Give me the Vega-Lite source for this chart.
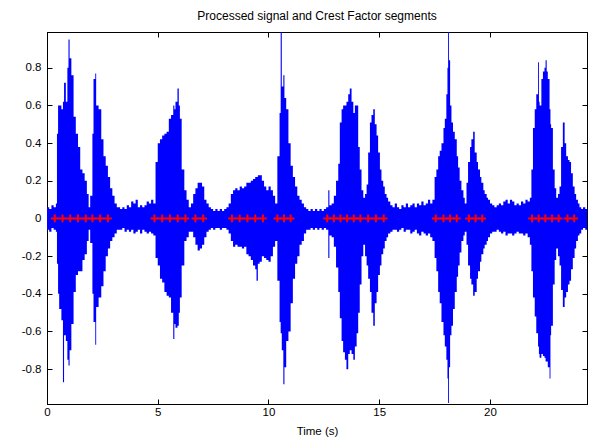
{
"$schema": "https://vega.github.io/schema/vega-lite/v6.json",
"width": 540, "height": 372,
"autosize": "none",
"padding": {"left": 47, "top": 32, "right": 8, "bottom": 34},
"background": "white",
"title": {"text": "Processed signal and Crest Factor segments", "font": "Liberation Sans", "fontSize": 12, "fontWeight": "normal", "color": "#000000", "offset": 9},
"config": {
  "view": {"stroke": "#000000", "strokeWidth": 1},
  "axis": {"grid": false, "domainColor": "#000000", "tickColor": "#000000", "labelColor": "#000000", "labelFont": "Liberation Sans", "labelFontSize": 11.5, "titleFont": "Liberation Sans", "titleFontSize": 11.5, "titleFontWeight": "normal", "titleColor": "#000000", "tickSize": -5, "labelPadding": 7}
},
"datasets": {
"sig": [
{"t":0.0,"hi":0.06,"lo":-0.06},{"t":0.1,"hi":0.05,"lo":-0.07},{"t":0.2,"hi":0.07,"lo":-0.05},{"t":0.3,"hi":0.06,"lo":-0.06},{"t":0.4,"hi":0.08,"lo":-0.07},
{"t":0.45,"hi":0.45,"lo":-0.24},{"t":0.5,"hi":0.6,"lo":-0.4},{"t":0.55,"hi":0.6,"lo":-0.48},{"t":0.65,"hi":0.58,"lo":-0.54},{"t":0.72,"hi":0.62,"lo":-0.87},{"t":0.77,"hi":0.72,"lo":-0.62},{"t":0.85,"hi":0.62,"lo":-0.65},{"t":0.92,"hi":0.8,"lo":-0.75},{"t":0.97,"hi":0.95,"lo":-0.78},{"t":1.02,"hi":0.85,"lo":-0.7},{"t":1.1,"hi":0.76,"lo":-0.56},{"t":1.2,"hi":0.54,"lo":-0.39},{"t":1.3,"hi":0.45,"lo":-0.3},{"t":1.4,"hi":0.38,"lo":-0.28},{"t":1.5,"hi":0.26,"lo":-0.28},{"t":1.6,"hi":0.24,"lo":-0.22},{"t":1.7,"hi":0.2,"lo":-0.19},{"t":1.8,"hi":0.13,"lo":-0.12},{"t":1.88,"hi":0.06,"lo":-0.06},{"t":1.95,"hi":0.12,"lo":-0.13},{"t":2.05,"hi":0.45,"lo":-0.4},{"t":2.1,"hi":0.74,"lo":-0.55},{"t":2.18,"hi":0.77,"lo":-0.67},{"t":2.22,"hi":0.6,"lo":-0.47},{"t":2.33,"hi":0.58,"lo":-0.42},{"t":2.45,"hi":0.42,"lo":-0.36},{"t":2.55,"hi":0.33,"lo":-0.28},{"t":2.65,"hi":0.28,"lo":-0.2},{"t":2.75,"hi":0.22,"lo":-0.16},{"t":2.85,"hi":0.16,"lo":-0.12},{"t":2.95,"hi":0.12,"lo":-0.1},{"t":3.05,"hi":0.08,"lo":-0.08},{"t":3.15,"hi":0.06,"lo":-0.06},
{"t":3.3,"hi":0.05,"lo":-0.06},{"t":3.4,"hi":0.06,"lo":-0.05},{"t":3.5,"hi":0.05,"lo":-0.07},{"t":3.6,"hi":0.07,"lo":-0.06},{"t":3.7,"hi":0.06,"lo":-0.07},{"t":3.8,"hi":0.09,"lo":-0.06},{"t":3.9,"hi":0.08,"lo":-0.08},{"t":4.0,"hi":0.1,"lo":-0.07},{"t":4.1,"hi":0.06,"lo":-0.06},{"t":4.2,"hi":0.07,"lo":-0.08},{"t":4.3,"hi":0.06,"lo":-0.06},{"t":4.4,"hi":0.07,"lo":-0.07},{"t":4.5,"hi":0.09,"lo":-0.08},{"t":4.6,"hi":0.08,"lo":-0.07},{"t":4.7,"hi":0.1,"lo":-0.08},{"t":4.8,"hi":0.08,"lo":-0.09},
{"t":4.9,"hi":0.3,"lo":-0.21},{"t":5.0,"hi":0.4,"lo":-0.25},{"t":5.1,"hi":0.42,"lo":-0.32},{"t":5.2,"hi":0.44,"lo":-0.34},{"t":5.3,"hi":0.45,"lo":-0.39},{"t":5.4,"hi":0.46,"lo":-0.41},{"t":5.5,"hi":0.53,"lo":-0.42},{"t":5.6,"hi":0.55,"lo":-0.5},{"t":5.7,"hi":0.6,"lo":-0.64},{"t":5.75,"hi":0.58,"lo":-0.56},{"t":5.8,"hi":0.62,"lo":-0.58},{"t":5.89,"hi":0.69,"lo":-0.57},{"t":5.95,"hi":0.6,"lo":-0.5},{"t":6.0,"hi":0.53,"lo":-0.42},{"t":6.08,"hi":0.26,"lo":-0.25},{"t":6.2,"hi":0.15,"lo":-0.12},{"t":6.3,"hi":0.1,"lo":-0.1},{"t":6.4,"hi":0.06,"lo":-0.07},{"t":6.5,"hi":0.08,"lo":-0.07},{"t":6.6,"hi":0.13,"lo":-0.1},{"t":6.7,"hi":0.16,"lo":-0.14},{"t":6.8,"hi":0.19,"lo":-0.17},{"t":6.9,"hi":0.19,"lo":-0.16},{"t":7.0,"hi":0.17,"lo":-0.14},{"t":7.1,"hi":0.1,"lo":-0.1},{"t":7.2,"hi":0.08,"lo":-0.07},{"t":7.3,"hi":0.06,"lo":-0.06},
{"t":7.4,"hi":0.05,"lo":-0.05},{"t":7.5,"hi":0.04,"lo":-0.06},{"t":7.6,"hi":0.05,"lo":-0.05},{"t":7.7,"hi":0.04,"lo":-0.05},{"t":7.8,"hi":0.05,"lo":-0.06},{"t":7.9,"hi":0.04,"lo":-0.05},{"t":8.0,"hi":0.05,"lo":-0.05},{"t":8.1,"hi":0.06,"lo":-0.06},{"t":8.2,"hi":0.08,"lo":-0.08},
{"t":8.3,"hi":0.13,"lo":-0.12},{"t":8.4,"hi":0.15,"lo":-0.15},{"t":8.5,"hi":0.16,"lo":-0.14},{"t":8.6,"hi":0.15,"lo":-0.15},{"t":8.7,"hi":0.17,"lo":-0.15},{"t":8.8,"hi":0.16,"lo":-0.16},{"t":8.9,"hi":0.17,"lo":-0.15},{"t":9.0,"hi":0.19,"lo":-0.19},{"t":9.1,"hi":0.19,"lo":-0.2},{"t":9.2,"hi":0.2,"lo":-0.22},{"t":9.3,"hi":0.21,"lo":-0.25},{"t":9.4,"hi":0.22,"lo":-0.27},{"t":9.46,"hi":0.22,"lo":-0.33},{"t":9.52,"hi":0.23,"lo":-0.24},{"t":9.6,"hi":0.23,"lo":-0.23},{"t":9.7,"hi":0.2,"lo":-0.2},{"t":9.8,"hi":0.17,"lo":-0.21},{"t":9.9,"hi":0.15,"lo":-0.22},{"t":10.0,"hi":0.17,"lo":-0.23},{"t":10.1,"hi":0.15,"lo":-0.2},{"t":10.2,"hi":0.12,"lo":-0.15},{"t":10.3,"hi":0.08,"lo":-0.12},
{"t":10.4,"hi":0.33,"lo":-0.33},{"t":10.5,"hi":0.56,"lo":-0.55},{"t":10.55,"hi":0.99,"lo":-0.61},{"t":10.6,"hi":0.7,"lo":-0.7},{"t":10.67,"hi":0.76,"lo":-0.88},{"t":10.72,"hi":0.64,"lo":-0.79},{"t":10.8,"hi":0.58,"lo":-0.65},{"t":10.9,"hi":0.4,"lo":-0.6},{"t":11.0,"hi":0.28,"lo":-0.45},{"t":11.1,"hi":0.22,"lo":-0.32},{"t":11.2,"hi":0.17,"lo":-0.24},{"t":11.3,"hi":0.12,"lo":-0.2},{"t":11.4,"hi":0.1,"lo":-0.14},{"t":11.5,"hi":0.08,"lo":-0.12},{"t":11.6,"hi":0.06,"lo":-0.08},
{"t":11.7,"hi":0.05,"lo":-0.06},{"t":11.8,"hi":0.04,"lo":-0.06},{"t":11.9,"hi":0.05,"lo":-0.05},{"t":12.0,"hi":0.04,"lo":-0.06},{"t":12.1,"hi":0.05,"lo":-0.05},{"t":12.2,"hi":0.04,"lo":-0.06},{"t":12.3,"hi":0.05,"lo":-0.05},{"t":12.4,"hi":0.04,"lo":-0.06},{"t":12.5,"hi":0.05,"lo":-0.05},{"t":12.6,"hi":0.06,"lo":-0.06},{"t":12.7,"hi":0.15,"lo":-0.21},{"t":12.75,"hi":0.07,"lo":-0.09},{"t":12.85,"hi":0.08,"lo":-0.1},{"t":12.95,"hi":0.12,"lo":-0.15},{"t":13.05,"hi":0.2,"lo":-0.26},{"t":13.15,"hi":0.29,"lo":-0.39},
{"t":13.22,"hi":0.51,"lo":-0.53},{"t":13.3,"hi":0.58,"lo":-0.65},{"t":13.37,"hi":0.6,"lo":-0.71},{"t":13.45,"hi":0.6,"lo":-0.75},{"t":13.52,"hi":0.62,"lo":-0.8},{"t":13.6,"hi":0.66,"lo":-0.72},{"t":13.67,"hi":0.69,"lo":-0.7},{"t":13.75,"hi":0.62,"lo":-0.72},{"t":13.83,"hi":0.56,"lo":-0.75},{"t":13.9,"hi":0.6,"lo":-0.68},{"t":13.98,"hi":0.6,"lo":-0.61},{"t":14.05,"hi":0.38,"lo":-0.5},{"t":14.12,"hi":0.26,"lo":-0.35},{"t":14.2,"hi":0.15,"lo":-0.2},{"t":14.28,"hi":0.11,"lo":-0.14},{"t":14.36,"hi":0.13,"lo":-0.2},{"t":14.43,"hi":0.18,"lo":-0.25},{"t":14.5,"hi":0.35,"lo":-0.32},{"t":14.58,"hi":0.51,"lo":-0.39},{"t":14.65,"hi":0.55,"lo":-0.5},{"t":14.73,"hi":0.58,"lo":-0.57},{"t":14.8,"hi":0.5,"lo":-0.45},{"t":14.88,"hi":0.44,"lo":-0.39},{"t":14.95,"hi":0.35,"lo":-0.3},{"t":15.03,"hi":0.26,"lo":-0.25},{"t":15.1,"hi":0.2,"lo":-0.19},{"t":15.18,"hi":0.17,"lo":-0.16},{"t":15.25,"hi":0.13,"lo":-0.12},{"t":15.33,"hi":0.11,"lo":-0.1},{"t":15.4,"hi":0.09,"lo":-0.08},
{"t":15.5,"hi":0.07,"lo":-0.07},{"t":15.6,"hi":0.06,"lo":-0.06},{"t":15.7,"hi":0.08,"lo":-0.06},{"t":15.8,"hi":0.06,"lo":-0.07},{"t":15.9,"hi":0.05,"lo":-0.06},{"t":16.0,"hi":0.07,"lo":-0.05},{"t":16.1,"hi":0.06,"lo":-0.07},{"t":16.2,"hi":0.08,"lo":-0.06},{"t":16.3,"hi":0.06,"lo":-0.06},{"t":16.4,"hi":0.07,"lo":-0.08},{"t":16.5,"hi":0.08,"lo":-0.07},{"t":16.6,"hi":0.06,"lo":-0.06},{"t":16.7,"hi":0.08,"lo":-0.08},{"t":16.8,"hi":0.07,"lo":-0.09},{"t":16.9,"hi":0.09,"lo":-0.07},{"t":17.0,"hi":0.07,"lo":-0.08},{"t":17.1,"hi":0.08,"lo":-0.09},{"t":17.2,"hi":0.1,"lo":-0.08},{"t":17.3,"hi":0.08,"lo":-0.1},{"t":17.4,"hi":0.1,"lo":-0.12},
{"t":17.5,"hi":0.22,"lo":-0.21},{"t":17.58,"hi":0.26,"lo":-0.28},{"t":17.66,"hi":0.33,"lo":-0.39},{"t":17.73,"hi":0.36,"lo":-0.45},{"t":17.81,"hi":0.4,"lo":-0.55},{"t":17.9,"hi":0.48,"lo":-0.62},{"t":17.96,"hi":0.53,"lo":-0.68},{"t":18.03,"hi":0.66,"lo":-0.75},{"t":18.08,"hi":0.8,"lo":-0.85},{"t":18.11,"hi":0.99,"lo":-0.98},{"t":18.15,"hi":0.84,"lo":-0.79},{"t":18.2,"hi":0.6,"lo":-0.62},{"t":18.26,"hi":0.51,"lo":-0.57},{"t":18.33,"hi":0.46,"lo":-0.48},{"t":18.41,"hi":0.42,"lo":-0.39},{"t":18.5,"hi":0.33,"lo":-0.31},{"t":18.56,"hi":0.27,"lo":-0.25},{"t":18.63,"hi":0.2,"lo":-0.18},{"t":18.71,"hi":0.15,"lo":-0.12},{"t":18.8,"hi":0.11,"lo":-0.09},{"t":18.86,"hi":0.08,"lo":-0.07},{"t":18.94,"hi":0.19,"lo":-0.14},{"t":19.01,"hi":0.3,"lo":-0.25},{"t":19.1,"hi":0.38,"lo":-0.32},{"t":19.16,"hi":0.42,"lo":-0.35},{"t":19.24,"hi":0.46,"lo":-0.41},{"t":19.31,"hi":0.35,"lo":-0.39},{"t":19.4,"hi":0.3,"lo":-0.32},{"t":19.46,"hi":0.26,"lo":-0.28},{"t":19.55,"hi":0.22,"lo":-0.23},{"t":19.61,"hi":0.19,"lo":-0.19},{"t":19.7,"hi":0.15,"lo":-0.16},{"t":19.76,"hi":0.13,"lo":-0.14},{"t":19.85,"hi":0.11,"lo":-0.12},{"t":19.91,"hi":0.1,"lo":-0.1},{"t":20.0,"hi":0.08,"lo":-0.08},{"t":20.1,"hi":0.07,"lo":-0.07},
{"t":20.2,"hi":0.06,"lo":-0.07},{"t":20.3,"hi":0.07,"lo":-0.06},{"t":20.4,"hi":0.08,"lo":-0.07},{"t":20.5,"hi":0.07,"lo":-0.08},{"t":20.6,"hi":0.09,"lo":-0.07},{"t":20.7,"hi":0.1,"lo":-0.09},{"t":20.8,"hi":0.08,"lo":-0.08},{"t":20.9,"hi":0.1,"lo":-0.08},{"t":21.0,"hi":0.09,"lo":-0.09},{"t":21.1,"hi":0.07,"lo":-0.08},{"t":21.2,"hi":0.08,"lo":-0.07},{"t":21.3,"hi":0.07,"lo":-0.08},{"t":21.4,"hi":0.09,"lo":-0.08},{"t":21.5,"hi":0.08,"lo":-0.09},{"t":21.6,"hi":0.1,"lo":-0.08},{"t":21.7,"hi":0.09,"lo":-0.1},
{"t":21.8,"hi":0.11,"lo":-0.14},{"t":21.87,"hi":0.26,"lo":-0.28},{"t":21.94,"hi":0.48,"lo":-0.42},{"t":22.02,"hi":0.58,"lo":-0.52},{"t":22.09,"hi":0.66,"lo":-0.61},{"t":22.17,"hi":0.83,"lo":-0.68},{"t":22.21,"hi":0.62,"lo":-0.72},{"t":22.24,"hi":0.6,"lo":-0.74},{"t":22.32,"hi":0.74,"lo":-0.72},{"t":22.39,"hi":0.78,"lo":-0.73},{"t":22.46,"hi":0.8,"lo":-0.74},{"t":22.51,"hi":0.84,"lo":-0.76},{"t":22.56,"hi":0.78,"lo":-0.76},{"t":22.61,"hi":0.74,"lo":-0.79},{"t":22.69,"hi":0.58,"lo":-0.85},{"t":22.73,"hi":0.5,"lo":-0.62},{"t":22.76,"hi":0.48,"lo":-0.57},{"t":22.84,"hi":0.26,"lo":-0.35},{"t":22.92,"hi":0.16,"lo":-0.22},{"t":22.99,"hi":0.11,"lo":-0.16},{"t":23.07,"hi":0.13,"lo":-0.2},{"t":23.14,"hi":0.17,"lo":-0.25},{"t":23.21,"hi":0.38,"lo":-0.38},{"t":23.29,"hi":0.51,"lo":-0.47},{"t":23.37,"hi":0.4,"lo":-0.42},{"t":23.44,"hi":0.33,"lo":-0.39},{"t":23.52,"hi":0.31,"lo":-0.35},{"t":23.59,"hi":0.3,"lo":-0.33},{"t":23.66,"hi":0.24,"lo":-0.27},{"t":23.74,"hi":0.17,"lo":-0.21},{"t":23.82,"hi":0.13,"lo":-0.16},{"t":23.89,"hi":0.1,"lo":-0.12},{"t":23.97,"hi":0.08,"lo":-0.09},{"t":24.04,"hi":0.06,"lo":-0.08},{"t":24.12,"hi":0.05,"lo":-0.06},{"t":24.2,"hi":0.06,"lo":-0.05},{"t":24.3,"hi":0.05,"lo":-0.06},{"t":24.38,"hi":0.05,"lo":-0.06}
],
"cf": [
{"t":0.35,"v":0,"g":"a"},{"t":0.7,"v":0,"g":"a"},{"t":1.05,"v":0,"g":"a"},{"t":1.4,"v":0,"g":"a"},{"t":1.75,"v":0,"g":"a"},{"t":2.05,"v":0,"g":"b"},{"t":2.4,"v":0,"g":"b"},{"t":2.75,"v":0,"g":"b"},
{"t":4.85,"v":0,"g":"c"},{"t":5.2,"v":0,"g":"c"},{"t":5.55,"v":0,"g":"c"},{"t":5.9,"v":0,"g":"c"},{"t":6.25,"v":0,"g":"c"},{"t":6.7,"v":0,"g":"d"},{"t":7.05,"v":0,"g":"d"},
{"t":8.35,"v":0,"g":"e"},{"t":8.7,"v":0,"g":"e"},{"t":9.05,"v":0,"g":"e"},{"t":9.4,"v":0,"g":"e"},{"t":9.75,"v":0,"g":"e"},{"t":10.4,"v":0,"g":"f"},{"t":10.7,"v":0,"g":"f"},{"t":11.0,"v":0,"g":"f"},
{"t":12.65,"v":0,"g":"h"},{"t":12.95,"v":0,"g":"h"},{"t":13.25,"v":0,"g":"h"},{"t":13.55,"v":0,"g":"h"},{"t":13.85,"v":0,"g":"h"},{"t":14.15,"v":0,"g":"h"},{"t":14.5,"v":0,"g":"i"},{"t":14.85,"v":0,"g":"i"},{"t":15.2,"v":0,"g":"i"},
{"t":17.55,"v":0,"g":"j"},{"t":17.9,"v":0,"g":"j"},{"t":18.2,"v":0,"g":"j"},{"t":18.5,"v":0,"g":"j"},{"t":19.05,"v":0,"g":"k"},{"t":19.35,"v":0,"g":"k"},{"t":19.65,"v":0,"g":"k"},
{"t":21.9,"v":0,"g":"l"},{"t":22.2,"v":0,"g":"l"},{"t":22.5,"v":0,"g":"l"},{"t":22.8,"v":0,"g":"l"},{"t":23.1,"v":0,"g":"l"},{"t":23.5,"v":0,"g":"m"},{"t":23.8,"v":0,"g":"m"}
]
},
"resolve": {"axis": {"x": "independent", "y": "independent"}},
"layer": [
{
  "data": {"name": "sig"},
  "mark": {"type": "area", "interpolate": "step-after", "color": "#0000ff", "opacity": 1, "clip": true},
  "encoding": {
    "x": {"field": "t", "type": "quantitative", "scale": {"domain": [0, 24.38], "nice": false, "zero": false}, "axis": {"values": [0, 5, 10, 15, 20], "title": "Time (s)", "titlePadding": 8, "labelFlush": false}},
    "y": {"field": "hi", "type": "quantitative", "scale": {"domain": [-0.985, 0.99], "nice": false, "zero": false}, "axis": {"values": [-0.8, -0.6, -0.4, -0.2, 0, 0.2, 0.4, 0.6, 0.8], "title": null, "labelExpr": "replace(format(datum.value, '.1~f'), '−', '-')", "labelPadding": 11}},
    "y2": {"field": "lo"}
  }
},
{
  "data": {"name": "cf"},
  "mark": {"type": "line", "color": "#ff0000", "strokeWidth": 1.2},
  "encoding": {
    "x": {"field": "t", "type": "quantitative", "axis": {"orient": "top", "values": [0, 5, 10, 15, 20], "labels": false, "title": null}},
    "y": {"field": "v", "type": "quantitative", "axis": {"orient": "right", "values": [-0.8, -0.6, -0.4, -0.2, 0, 0.2, 0.4, 0.6, 0.8], "labels": false, "title": null}},
    "detail": {"field": "g"}
  }
},
{
  "data": {"name": "cf"},
  "mark": {"type": "point", "shape": "M-1,0L1,0M0,-1L0,1", "filled": false, "color": "#ff0000", "size": 60, "strokeWidth": 2, "opacity": 1},
  "encoding": {
    "x": {"field": "t", "type": "quantitative", "axis": null},
    "y": {"field": "v", "type": "quantitative", "axis": null}
  }
}
]
}
